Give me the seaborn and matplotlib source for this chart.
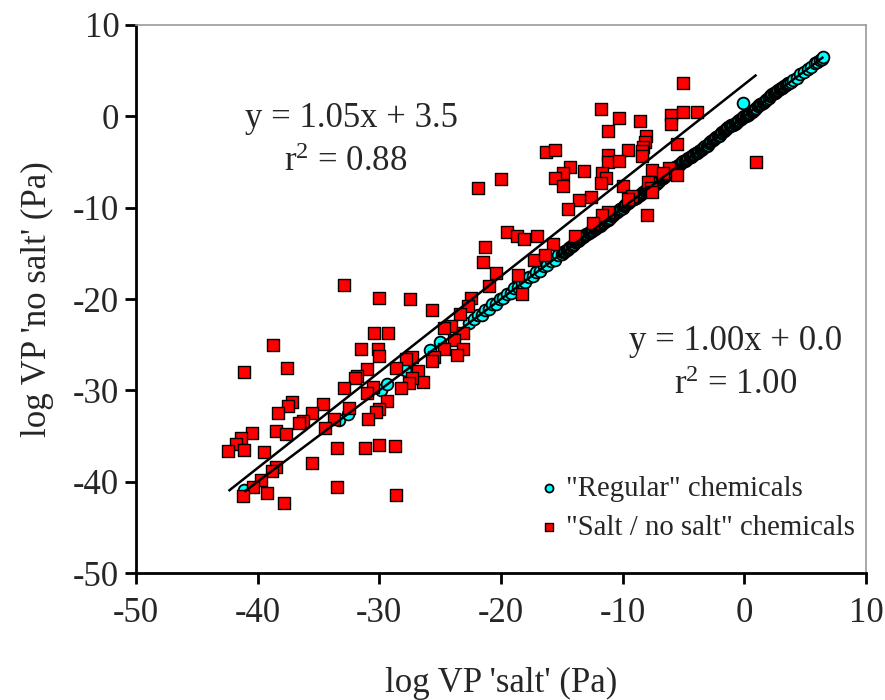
import matplotlib
matplotlib.use("Agg")
import matplotlib.pyplot as plt
import seaborn as sns
import pandas as pd

# ---------------- data ----------------
# "Regular" chemicals (log VP salt, log VP no salt)
reg_x = [-41.1, -33.3, -32.6, -29.9, -29.4, -27.9, -25.8, -25.0, -22.6,
         -22.2, -21.9, -21.6, -21.3, -21.0, -20.7, -20.4, -20.1, -19.8, -19.5,
         -19.2, -18.9, -18.6, -18.3, -18.0, -17.7, -17.4, -17.1, -16.8, -16.5,
         -16.2, -15.9, -15.6, -15.3, -15.0,
         -14.9, -14.8, -14.7, -14.6, -14.5, -14.4, -14.3, -14.2, -14.1, -14.0,
         -13.9, -13.8, -13.7, -13.6, -13.5, -13.4, -13.3, -13.2, -13.1, -13.0,
         -12.9, -12.8, -12.7, -12.6, -12.5, -12.4, -12.3, -12.2, -12.1, -12.0,
         -11.9, -11.8, -11.7, -11.6, -11.5, -11.4, -11.3, -11.2, -11.1, -11.0,
         -10.9, -10.8, -10.7, -10.6, -10.5, -10.4, -10.3, -10.2, -10.1, -10.0,
         -9.9, -9.8, -9.7, -9.6, -9.5, -9.4, -9.3, -9.2, -9.1, -9.0,
         -8.9, -8.8, -8.7, -8.6, -8.5, -8.4, -8.3, -8.2, -8.1, -8.0,
         -7.9, -7.8, -7.7, -7.6, -7.5, -7.4, -7.3, -7.2, -7.1, -7.0,
         -6.9, -6.8, -6.7, -6.6, -6.5, -6.4, -6.3, -6.2, -6.1, -6.0,
         -5.9, -5.8, -5.7, -5.6, -5.5, -5.4, -5.3, -5.2, -5.1, -5.0,
         -4.9, -4.8, -4.7, -4.6, -4.5, -4.4, -4.3, -4.2, -4.1, -4.0,
         -3.9, -3.8, -3.7, -3.6, -3.5, -3.4, -3.3, -3.2, -3.1, -3.0,
         -2.9, -2.8, -2.7, -2.6, -2.5, -2.4, -2.3, -2.2, -2.1, -2.0,
         -1.9, -1.8, -1.7, -1.6, -1.5, -1.4, -1.3, -1.2, -1.1, -1.0,
         -0.9, -0.8, -0.7, -0.6, -0.5, -0.4, -0.3, -0.2, -0.1, 0.0,
         0.1, 0.2, 0.3, 0.4, 0.5, 0.6, 0.7, 0.8, 0.9, 1.0,
         1.1, 1.2, 1.3, 1.4, 1.5, 1.6, 1.7, 1.8, 1.9, 2.0,
         2.1, 2.2, 2.3, 2.4, 2.5, 2.6, 2.7, 2.8, 2.9, 3.0,
         3.1, 3.2, 3.3, 3.4, 3.5, 3.6, 3.7, 3.8,
         4.0, 4.3, 4.6, 4.9, 5.2, 5.5, 5.8, 6.0, 6.2, 6.4, 6.5,
         -0.1]
reg_y = [-40.9, -33.3, -32.6, -30.0, -29.3, -27.8, -25.6, -24.7, -22.6,
         -22.2, -21.8, -21.7, -21.2, -21.1, -20.6, -20.5, -20.0, -19.9, -19.4,
         -19.3, -18.8, -18.7, -18.2, -18.1, -17.6, -17.5, -17.0, -16.9, -16.4,
         -16.3, -15.8, -15.7, -15.2, -15.1,
         -14.9, -14.8, -14.7, -14.6, -14.5, -14.4, -14.3, -14.2, -14.1, -14.0,
         -13.8, -13.7, -13.6, -13.5, -13.4, -13.3, -13.2, -13.1, -13.0, -12.9,
         -12.9, -12.8, -12.7, -12.6, -12.5, -12.4, -12.3, -12.2, -12.1, -12.0,
         -12.0, -11.9, -11.8, -11.7, -11.6, -11.5, -11.4, -11.3, -11.2, -11.1,
         -10.9, -10.8, -10.7, -10.6, -10.5, -10.4, -10.3, -10.2, -10.1, -10.0,
         -9.8, -9.7, -9.6, -9.5, -9.4, -9.3, -9.2, -9.1, -9.0, -8.9,
         -8.9, -8.8, -8.7, -8.6, -8.5, -8.4, -8.3, -8.2, -8.1, -8.0,
         -8.0, -7.9, -7.8, -7.7, -7.6, -7.5, -7.4, -7.3, -7.2, -7.1,
         -6.9, -6.8, -6.7, -6.6, -6.5, -6.4, -6.3, -6.2, -6.1, -6.0,
         -5.8, -5.7, -5.6, -5.5, -5.4, -5.3, -5.2, -5.1, -5.0, -4.9,
         -4.9, -4.8, -4.7, -4.6, -4.5, -4.4, -4.3, -4.2, -4.1, -4.0,
         -4.0, -3.9, -3.8, -3.7, -3.6, -3.5, -3.4, -3.3, -3.2, -3.1,
         -2.9, -2.8, -2.7, -2.6, -2.5, -2.4, -2.3, -2.2, -2.1, -2.0,
         -1.8, -1.7, -1.6, -1.5, -1.4, -1.3, -1.2, -1.1, -1.0, -0.9,
         -0.9, -0.8, -0.7, -0.6, -0.5, -0.4, -0.3, -0.2, -0.1, 0.0,
         0.0, 0.1, 0.2, 0.3, 0.4, 0.5, 0.6, 0.7, 0.8, 0.9,
         1.1, 1.2, 1.3, 1.4, 1.5, 1.6, 1.7, 1.8, 1.9, 2.0,
         2.2, 2.3, 2.4, 2.5, 2.6, 2.7, 2.8, 2.9, 3.0, 3.1,
         3.1, 3.2, 3.3, 3.4, 3.5, 3.6, 3.7, 3.8,
         4.0, 4.2, 4.6, 4.8, 5.2, 5.4, 5.8, 5.9, 6.2, 6.3, 6.5,
         1.5]

# "Salt / no salt" chemicals
salt_x = [-5.0, -11.8, -10.3, -8.6, -11.2, -6.0, -6.0, -5.0, -3.9, -8.1,
          -8.2, -8.3, -8.4, -8.4, -5.5, -9.6, -11.2, -11.2, -10.3, -16.3,
          -15.6, -14.3, -13.2, -14.9, -15.6, -14.9, -11.7, -11.4, -11.8, -7.6,
          -6.2, -6.7, -5.5, -10.0, -7.9, -7.7, -7.6, -12.6, -13.6, -14.5,
          -9.2, -9.6, -8.0, 1.0, -11.2, -11.7, -12.4, -13.9,
          -21.9, -20.0, -19.5, -18.7, -18.1, -17.0, -15.7, -21.3, -21.5, -17.3,
          -16.4, -20.4, -18.6, -21.0, -18.3, -22.5, -22.7, -23.4,
          -32.9, -30.0, -27.5, -25.7, -24.1, -24.7, -23.1, -23.9, -23.1, -23.6,
          -24.7, -25.5, -25.7, -30.4, -29.3, -31.5, -30.1, -30.0, -27.3, -27.8,
          -28.6, -26.8, -26.4, -27.3, -27.6, -28.2, -31.0, -31.8, -32.0, -32.9,
          -30.5, -31.0, -29.4, -30.0, -30.3, -30.9, -32.5, -33.7, -34.5, -34.6,
          -35.5, -36.3, -36.6, -37.2, -37.5, -38.3, -38.7, -41.1, -37.6, -38.5,
          -37.7, -40.5, -41.4, -41.8, -42.4, -41.1, -39.5, -33.5, -31.2, -30.0,
          -28.7, -35.5, -38.5, -38.8, -39.7, -40.4, -41.2, -39.2, -37.8, -33.5,
          -28.6]
salt_y = [3.7, 0.8, -0.2, -0.5, -1.6, 0.1, -0.8, 0.5, 0.5, -2.1,
          -2.8, -3.4, -3.8, -4.3, -3.0, -3.7, -4.2, -5.0, -4.9, -3.9,
          -3.7, -5.6, -6.0, -6.2, -6.7, -7.6, -6.2, -6.8, -7.3, -5.9,
          -5.7, -6.2, -6.4, -7.6, -7.2, -7.9, -8.3, -8.8, -9.2, -10.2,
          -8.7, -9.0, -10.8, -5.0, -10.5, -10.8, -11.7, -13.1,
          -7.8, -6.9, -12.7, -13.1, -13.4, -13.1, -14.0, -14.3, -15.9, -15.7,
          -15.2, -17.2, -17.4, -18.6, -19.5, -19.9, -20.8, -21.6,
          -18.5, -19.9, -20.0, -21.2, -23.0, -23.2, -23.7, -24.5, -25.5, -26.1,
          -25.5, -26.4, -26.8, -23.7, -23.7, -25.5, -25.5, -26.2, -26.4, -26.6,
          -27.5, -27.9, -29.1, -28.7, -29.2, -29.7, -27.7, -28.4, -28.7, -29.7,
          -29.6, -30.3, -31.2, -32.0, -32.4, -33.1, -31.9, -33.1, -34.1, -31.5,
          -32.5, -33.4, -33.6, -31.3, -31.7, -32.5, -25.0, -28.0, -27.6, -34.5,
          -34.8, -34.7, -35.2, -35.9, -36.6, -36.5, -36.8, -36.3, -36.3, -36.0,
          -36.1, -38.0, -38.4, -38.8, -39.8, -40.6, -41.6, -41.2, -42.3, -40.6,
          -41.5]

series_labels = ['"Regular" chemicals', '"Salt / no salt" chemicals']
fit_slope = [1.00, 1.05]
fit_intercept = [0.0, 3.5]
fit_r2 = [1.00, 0.88]
x_ticks = [-50, -40, -30, -20, -10, 0, 10]
y_ticks = [-50, -40, -30, -20, -10, 0, 10]

# ---------------- style ----------------
sns.set_style("white")
plt.rcParams["font.family"] = ["Liberation Serif", "DejaVu Serif"]
plt.rcParams["mathtext.fontset"] = "custom"
plt.rcParams["mathtext.rm"] = "Liberation Serif"
plt.rcParams["mathtext.it"] = "Liberation Serif:italic"

fig = plt.figure(figsize=(8.85, 7.0), dpi=100)
ax = fig.add_axes([0.1537, 0.1814, 0.8248, 0.7829])

reg_df = pd.DataFrame({"x": reg_x, "y": reg_y}).sort_values("x", kind="stable")
salt_df = pd.DataFrame({"x": salt_x, "y": salt_y})

sns.scatterplot(data=reg_df, x="x", y="y", ax=ax, marker="o", s=72,
                color="#00FFFF", edgecolor="black", linewidth=1.3,
                label=series_labels[0], zorder=2)
sns.scatterplot(data=salt_df, x="x", y="y", ax=ax, marker="s", s=74,
                color="#FF0000", edgecolor="black", linewidth=1.0,
                label=series_labels[1], zorder=3)

# trend lines
for df, m, b in [(reg_df, fit_slope[0], fit_intercept[0]),
                 (salt_df, fit_slope[1], fit_intercept[1])]:
    xs = [df["x"].min(), df["x"].max()]
    ys = [m * v + b for v in xs]
    ax.plot(xs, ys, color="black", lw=1.8, zorder=4, solid_capstyle="butt")

ax.set_xlim(-50, 10)
ax.set_ylim(-50, 10)
ax.set_xticks(x_ticks)
ax.set_yticks(y_ticks)
ax.set_xticklabels([str(t) for t in x_ticks])
ax.set_yticklabels([str(t) for t in y_ticks])

for side in ["left", "bottom"]:
    ax.spines[side].set_color("black")
    ax.spines[side].set_linewidth(2.0)
for side in ["top", "right"]:
    ax.spines[side].set_color("#9a9a9a")
    ax.spines[side].set_linewidth(1.2)
    ax.spines[side].set_visible(True)

ax.tick_params(axis="both", which="major", direction="out", length=8, width=2,
               color="black", labelsize=25, bottom=True, left=True,
               top=False, right=False)
ax.tick_params(axis="x", pad=9)
ax.tick_params(axis="y", pad=4)

ax.set_xlabel("log VP 'salt' (Pa)", fontsize=25, labelpad=27)
ax.set_ylabel("log VP 'no salt' (Pa)", fontsize=25, labelpad=14)

# equations
ax.text(-32.3, -0.2, f"y = {fit_slope[1]:.2f}x + {fit_intercept[1]:.1f}",
        fontsize=25, ha="center", va="center")
ax.text(-32.8, -5.1, f"r$^{{2}}$ = {fit_r2[1]:.2f}",
        fontsize=25, ha="center", va="center")
ax.text(-0.7, -24.6, f"y = {fit_slope[0]:.2f}x + {fit_intercept[0]:.1f}",
        fontsize=25, ha="center", va="center")
ax.text(-0.7, -29.5, f"r$^{{2}}$ = {fit_r2[0]:.2f}",
        fontsize=25, ha="center", va="center")

leg = ax.legend(loc="lower left", bbox_to_anchor=(0.518, 0.022), frameon=False,
                fontsize=20.7, markerscale=0.68, handletextpad=0.1,
                labelspacing=0.45, borderpad=0.2, handlelength=1.0)

fig.savefig("out.png", dpi=100)
